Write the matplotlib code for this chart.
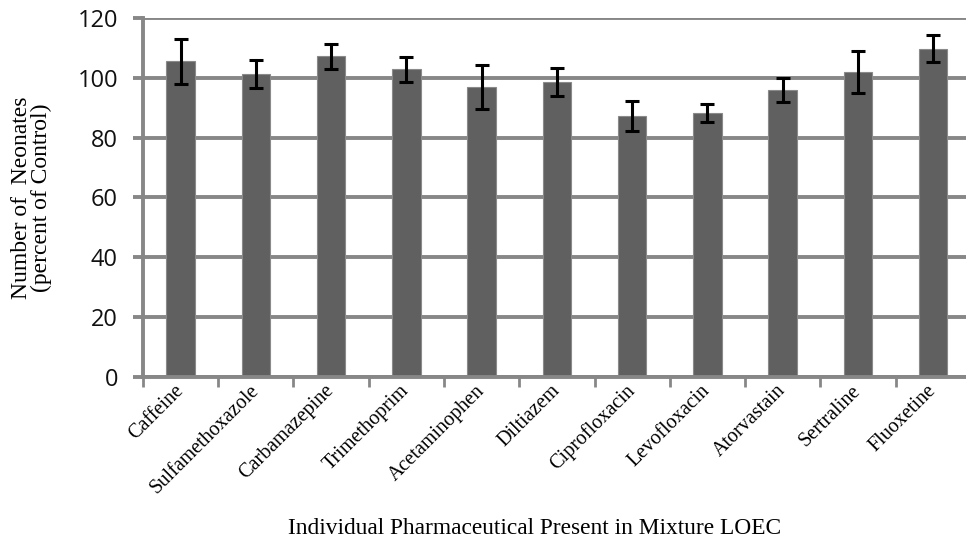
import numpy as np
import matplotlib
matplotlib.use("Agg")
import matplotlib.pyplot as plt

drugs = ["Caffeine", "Sulfamethoxazole", "Carbamazepine", "Trimethoprim",
         "Acetaminophen", "Diltiazem", "Ciprofloxacin", "Levofloxacin",
         "Atorvastain", "Sertraline", "Fluoxetine"]
neonates = [105.6, 101.2, 107.2, 102.9, 96.9, 98.6, 87.3, 88.2, 96.0, 102.1, 109.8]
err = [7.5, 4.7, 4.1, 4.2, 7.4, 4.7, 5.0, 3.1, 4.0, 7.0, 4.4]

grid_c = "#878787"

fig = plt.figure(figsize=(9.66, 5.47), dpi=100)
ax = fig.add_axes([0.148, 0.311, 0.857, 0.656])

x = np.arange(len(drugs))
ax.bar(x, neonates, width=0.38, color="#606060", edgecolor="#8a8a8a",
       linewidth=0.8, zorder=3)
ax.errorbar(x, neonates, yerr=err, fmt="none", ecolor="black",
            elinewidth=2.2, capsize=4.8, capthick=2.2, zorder=4)

ax.set_xlim(-0.5, 10.5)
ax.set_ylim(0, 120)
ax.set_yticks(np.arange(0, 121, 20))
ax.yaxis.grid(True, color=grid_c, linewidth=2.8, zorder=0)
ax.set_axisbelow(True)

for s in ["top", "right"]:
    ax.spines[s].set_visible(False)
for s in ["left", "bottom"]:
    ax.spines[s].set_color(grid_c)
    ax.spines[s].set_linewidth(2.8)
    ax.spines[s].set_zorder(5)

ax.tick_params(axis="y", length=7, width=2.8, color=grid_c, pad=11,
               labelsize=17)
for lab in ax.get_yticklabels():
    lab.set_fontfamily("Open Sans")
    lab.set_color("#111111")

# category boundaries as tick marks, names at centers
ax.set_xticks(np.arange(-0.5, 10.6, 1.0))
ax.set_xticklabels([])
ax.tick_params(axis="x", which="major", length=7, width=2.0, color=grid_c)
ax.set_xticks(x, minor=True)
ax.set_xticklabels(drugs, minor=True, rotation=45, ha="right", va="center",
                   rotation_mode="anchor", fontfamily="Liberation Serif",
                   fontsize=14.5)
ax.tick_params(axis="x", which="minor", length=0, pad=8)

ax.set_ylabel("Number of  Neonates\n(percent of Control)",
              fontfamily="Liberation Serif", fontsize=17, linespacing=0.95)
ax.yaxis.label.set_va("center")
ax.yaxis.set_label_coords(-0.135, 0.5)
fig.text(0.553, 0.034, "Individual Pharmaceutical Present in Mixture LOEC",
         ha="center", va="center", fontfamily="Liberation Serif", fontsize=16.8)

fig.savefig("out.png", dpi=100)
